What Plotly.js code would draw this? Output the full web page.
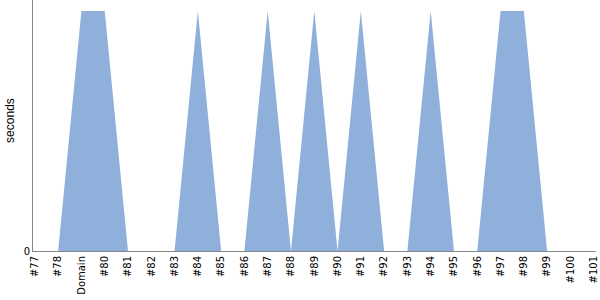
<!DOCTYPE html>
<html>
<head>
<meta charset="utf-8">
<script src="https://cdn.plot.ly/plotly-3.0.1.min.js"></script>
<style>html,body{margin:0;padding:0;background:#fff;}#chart{width:600px;height:300px;}</style>
</head>
<body>
<div id="chart"></div>
<script>
const categories = ["#77","#78","Domain","#80","#81","#82","#83","#84","#85","#86","#87","#88","#89","#90","#91","#92","#93","#94","#95","#96","#97","#98","#99","#100","#101"];
const seconds = [0,0,1,1,0,0,0,1,0,0,1,0,1,0,1,0,0,1,0,0,1,1,0,0,0];
const yTickVals = [0];
const yTickText = ["0"];
const yTitle = 'seconds';

Plotly.newPlot('chart', [{
  type: 'scatter',
  mode: 'lines',
  x: categories,
  y: seconds,
  fill: 'tozeroy',
  fillcolor: 'rgb(143,176,218)',
  line: {width: 0, color: 'rgb(143,176,218)'},
  hoverinfo: 'none'
}], {
  width: 600, height: 300,
  margin: {l: 33, r: 4, t: 0, b: 49},
  paper_bgcolor: '#fff', plot_bgcolor: '#fff',
  showlegend: false,
  xaxis: {
    type: 'category',
    range: [-0.08, 24.1],
    tickangle: -90,
    showgrid: false, zeroline: false,
    showline: true, linecolor: '#888', linewidth: 1,
    ticks: '', tickfont: {family: 'DejaVu Sans', size: 10, color: '#000'}
  },
  yaxis: {
    range: [0, 1.046],
    tickvals: yTickVals, ticktext: yTickText,
    showgrid: false, zeroline: false,
    showline: true, linecolor: '#888', linewidth: 1,
    ticks: '', tickfont: {family: 'DejaVu Sans', size: 10, color: '#000'}
  },
  annotations: [{
    text: yTitle, xref: 'paper', yref: 'paper',
    x: -0.041, y: 0.522, xanchor: 'center', yanchor: 'middle',
    textangle: -90, showarrow: false,
    font: {family: 'Liberation Sans, Arial', size: 12, color: '#000'}
  }]
}, {displayModeBar: false, staticPlot: true});
</script>
</body>
</html>
